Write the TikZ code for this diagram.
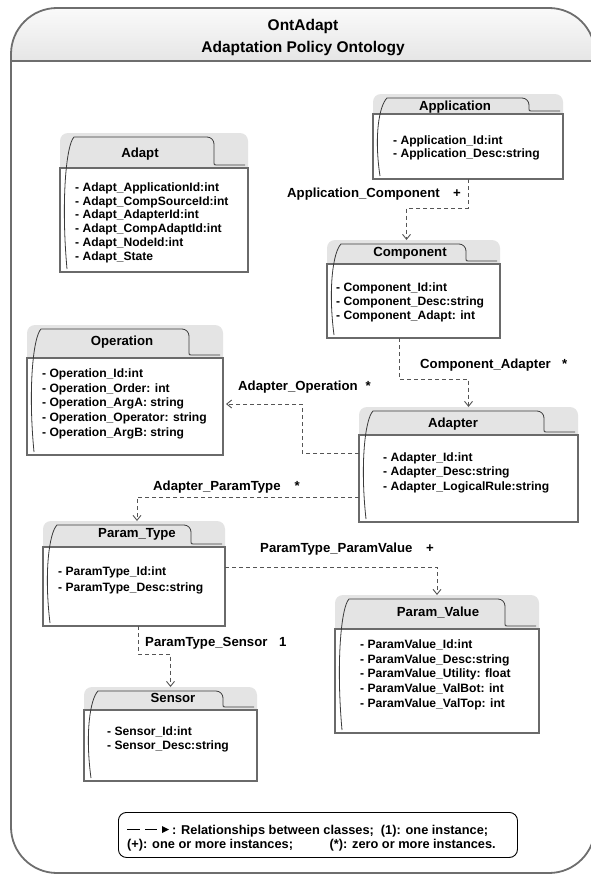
\documentclass[tikz,border=0pt]{standalone}
\usepackage{fontspec}
\setmainfont{Liberation Sans}
\usetikzlibrary{arrows.meta,calc}

\definecolor{hdrgray}{HTML}{E4E4E4}
\definecolor{bordergray}{HTML}{6A6A6A}
\definecolor{tabcol}{HTML}{3A3A3A}
\definecolor{conngray}{HTML}{555555}
\definecolor{framegray}{HTML}{6E6E6E}

\tikzset{
  bodyst/.style={draw=bordergray, line width=1.1pt, fill=white},
  hdrst/.style={fill=hdrgray},
  tabst/.style={draw=tabcol, line width=0.8pt},
  ttl/.style={font=\fontsize{13.2}{15}\selectfont\bfseries, anchor=base, inner sep=0},
  attr/.style={font=\fontsize{12.1}{14}\selectfont\bfseries, anchor=base west, inner sep=0},
  lbl/.style={font=\fontsize{13.2}{15}\selectfont\bfseries, anchor=base west, inner sep=0},
  leg/.style={font=\fontsize{12.8}{14}\selectfont\bfseries, inner sep=0},
  conn/.style={draw=conngray, line width=0.9pt, dash pattern=on 4pt off 3pt,
               -{Straight Barb[length=5pt,width=8pt]}},
  classnode/.style={inner sep=0, outer sep=0, anchor=north west},
}

% name L R HT BT BB
\newcommand\classbox[6]{%
  \fill[hdrst, rounded corners=8pt] (#2,#5+10) -- (#2,#4) -- (#3,#4) -- (#3,#5+10) -- cycle;
  \draw[bodyst] (#2,#5) rectangle (#3,#6);
  \draw[tabst] (#2+7,#6-3) .. controls (#2+1,{(#4+#6)/2}) and (#2+6,#4+12) .. (#2+14,#4+4)
     -- (#3-41,#4+4) arc[start angle=270, end angle=360, radius=7] -- (#3-34,#5-5)
     .. controls (#3-34,#5-3) .. (#3-31,#5-3) -- (#3-3,#5-3);
  \node[classnode, minimum width={(#3-#2)*1pt}, minimum height={(#6-#4)*1pt}] (#1) at (#2,#4) {};
}
% name x firstcenter step list
\newcommand\attrs[5]{%
  \foreach \t [count=\i] in {#5} {\node[attr] (#1-a\i) at (#2,{#3+4.3+(\i-1)*#4}) {\t};}%
}

\begin{document}
\begin{tikzpicture}[x=1pt,y=-1pt]
\useasboundingbox (0,0) rectangle (591,875);

% outer frame
\fill[white, rounded corners=46pt] (11,873) -- (11,8) -- (595,8) -- (595,873) -- cycle;
\shade[top color=gray!4, bottom color=gray!20]
  (11,61) -- (11,54) arc[start angle=180,end angle=270,radius=46]
  -- (549,8) arc[start angle=270,end angle=360,radius=46] -- (595,61) -- cycle;
\draw[framegray, line width=1.4pt] (11,61) -- (595,61);
\draw[framegray, line width=1.8pt, rounded corners=46pt] (11,873) -- (11,8) -- (595,8) -- (595,873) -- cycle;
\node[font=\fontsize{15.5}{18}\selectfont\bfseries, anchor=base, inner sep=0] (title1) at (303,31) {OntAdapt};
\node[font=\fontsize{15.5}{18}\selectfont\bfseries, anchor=base, inner sep=0] (title2) at (303,52.5) {Adaptation Policy Ontology};

% classes
\classbox{adapt}{60}{248}{133}{168}{272}
\node[ttl] (adapt-t) at (140,157.7) {Adapt};
\attrs{adapt}{75}{187}{13.8}{- Adapt\_ApplicationId:int, - Adapt\_CompSourceId:int, - Adapt\_AdapterId:int, - Adapt\_CompAdaptId:int, - Adapt\_NodeId:int, - Adapt\_State}

\classbox{app}{373}{563}{94}{114}{179}
\node[ttl] (app-t) at (455,110.7) {Application};
\attrs{app}{393}{140}{13.5}{- Application\_Id:int, - Application\_Desc:string}

\classbox{comp}{327}{500}{240}{264}{338}
\node[ttl] (comp-t) at (410,256.7) {Component};
\attrs{comp}{336}{287}{14}{- Component\_Id:int, - Component\_Desc:string, - Component\_Adapt: int}

\classbox{oper}{27}{223}{325}{358}{455}
\node[ttl] (oper-t) at (122,345.7) {Operation};
\attrs{oper}{42}{373}{14.7}{- Operation\_Id:int, - Operation\_Order: int, - Operation\_ArgA: string, - Operation\_Operator: string, - Operation\_ArgB: string}

\classbox{adapter}{359}{578}{407}{435}{522}
\node[ttl] (adapter-t) at (453,427.7) {Adapter};
\attrs{adapter}{383}{457}{14.5}{- Adapter\_Id:int, - Adapter\_Desc:string, - Adapter\_LogicalRule:string}

\classbox{ptype}{43}{225}{521}{547}{626}
\node[ttl] (ptype-t) at (137,537.7) {Param\_Type};
\attrs{ptype}{58}{571}{16}{- ParamType\_Id:int, - ParamType\_Desc:string}

\classbox{pval}{335}{539}{595}{629}{733}
\node[ttl] (pval-t) at (438,616.7) {Param\_Value};
\attrs{pval}{360}{644}{14.7}{- ParamValue\_Id:int, - ParamValue\_Desc:string, - ParamValue\_Utility: float, - ParamValue\_ValBot: int, - ParamValue\_ValTop: int}

\classbox{sensor}{84}{257}{687}{710}{781}
\node[ttl] (sensor-t) at (173,702.7) {Sensor};
\attrs{sensor}{107}{731}{14}{- Sensor\_Id:int, - Sensor\_Desc:string}

% connectors
\draw[conn] (app.south) -- ++(0,29) -| ([xshift=-7pt]comp.north);
\draw[conn] ([xshift=-14.5pt]comp.south) -- ++(0,41) -| (adapter.north);
\draw[conn, shorten >=3pt] ([yshift=11.5pt]adapter.west) -- ++(-57,0) |- ([yshift=-14pt]oper.east);
\draw[conn] ([yshift=-32.5pt]adapter.west) -| ([xshift=3pt]ptype.north);
\draw[conn] ([yshift=6.5pt]ptype.east) -| (pval.north);
\draw[conn] ([xshift=4pt]ptype.south) -- ++(0,28) -| (sensor.north);

% connector labels
\node[lbl] (l-ac) at (287,197.7) {Application\_Component};
\node[lbl] (l-ac-m) at (453,197.7) {+};
\node[lbl] (l-ca) at (420,368.7) {Component\_Adapter};
\node[lbl] (l-ca-m) at (562,368.7) {*};
\node[lbl] (l-ao) at (238,390) {Adapter\_Operation};
\node[lbl] (l-ao-m) at (365.5,390) {*};
\node[lbl] (l-ap) at (153,490.7) {Adapter\_ParamType};
\node[lbl] (l-ap-m) at (294.5,490.7) {*};
\node[lbl] (l-pp) at (260,552.7) {ParamType\_ParamValue};
\node[lbl] (l-pp-m) at (426,552.7) {+};
\node[lbl] (l-ps) at (145,646.7) {ParamType\_Sensor};
\node[lbl] (l-ps-m) at (279,646.7) {1};

% legend
\node[draw=black, line width=0.9pt, rounded corners=8pt, fill=white, minimum width=399pt,
      minimum height=45pt, inner sep=0, anchor=north west] (legend) at (118,812) {};
\draw[line width=1.6pt] (127,829.5) -- (140,829.5) (145,829.5) -- (157,829.5);
\fill (162,826) -- (169,829.5) -- (162,833) -- cycle;
\node[leg, anchor=base west] (leg1) at (172,834) {: Relationships between classes;\hspace{7pt}(1): one instance;};
\node[leg, anchor=base west] (leg2a) at (127,848) {(+): one or more instances;};
\node[leg, anchor=base east] (leg2b) at (496,848) {(*): zero or more instances.};
\end{tikzpicture}
\end{document}
